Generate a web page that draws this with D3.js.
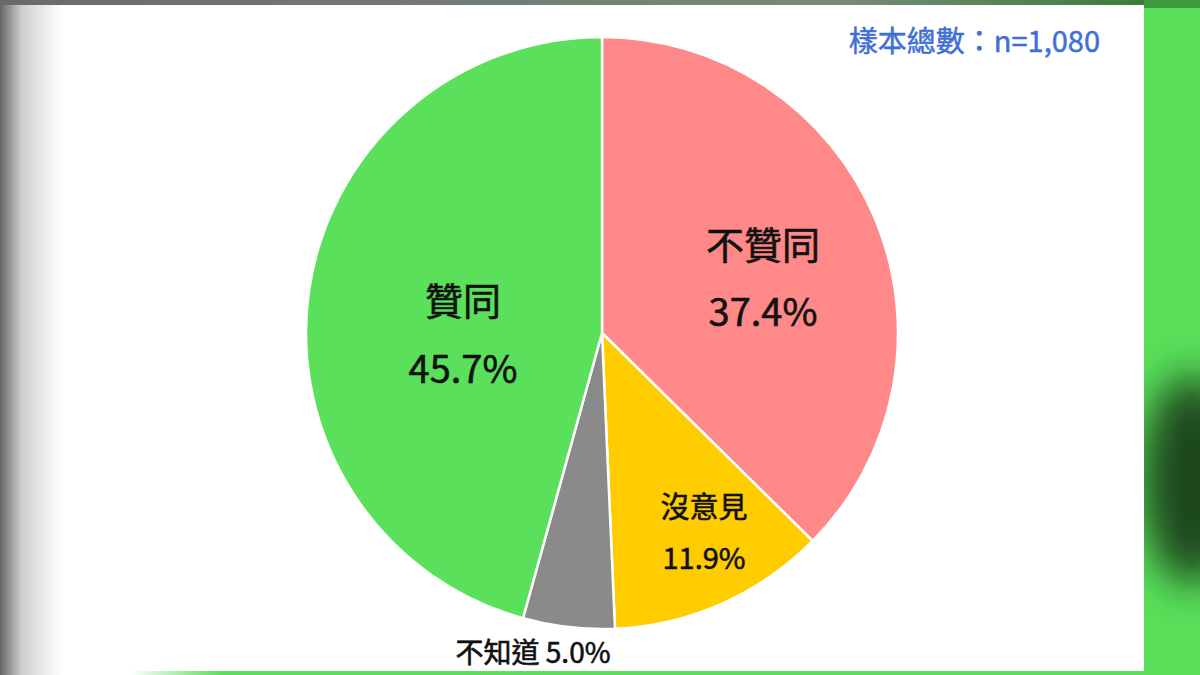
<!DOCTYPE html>
<html lang="zh-Hant">
  <meta charset="utf-8" />
  <head>
    <title>Survey Pie</title>
    <script src="https://cdn.jsdelivr.net/npm/d3@7"></script>
    <style>
      html, body { margin: 0; padding: 0; background: #fff; overflow: hidden; }
      text { font-family: "Noto Sans CJK TC", "Noto Sans", sans-serif; }
    </style>
  </head>
  <body>
  <script>
    // DATA
    var categories = ["不贊同", "沒意見", "不知道", "贊同"];
    var values     = [37.4, 11.9, 5.0, 45.7];
    var sampleNote = "樣本總數：n=1,080";

    // STYLE / LAYOUT
    var colors = ["#ff8888", "#ffcc00", "#8a8a8a", "#5ae05a"];
    var width = 1200, height = 675;
    var cx = 602, cy = 333, radius = 296;

    // label placement per slice: offset from centre, font sizes, one or two lines
    var labelLayout = [
      {dx: 161, dy: -57, size: 38, gap: 67, inline: false},
      {dx: 102, dy: 197, size: 29, gap: 51, inline: false},
      {dx: -69, dy: 318, size: 28, gap: 0,  inline: true},
      {dx: -139, dy: -1, size: 38, gap: 68, inline: false}
    ];

    var svg = d3.select("body").append("svg")
        .attr("width", width)
        .attr("height", height);

    var defs = svg.append("defs");

    // backdrop: left grey fade, top band, green panel on right
    var gl = defs.append("linearGradient").attr("id", "leftFade");
    gl.append("stop").attr("offset", "0%").attr("stop-color", "#666666");
    gl.append("stop").attr("offset", "35%").attr("stop-color", "#cfcfcf");
    gl.append("stop").attr("offset", "100%").attr("stop-color", "#ffffff");

    var gt = defs.append("linearGradient").attr("id", "topBand");
    gt.append("stop").attr("offset", "0%").attr("stop-color", "#6a6a6a");
    gt.append("stop").attr("offset", "70%").attr("stop-color", "#7a8a7a");
    gt.append("stop").attr("offset", "100%").attr("stop-color", "#2f7a2f");

    var gb = defs.append("linearGradient").attr("id", "bottomLine");
    gb.append("stop").attr("offset", "0%").attr("stop-color", "#5ae05a").attr("stop-opacity", 0);
    gb.append("stop").attr("offset", "9%").attr("stop-color", "#5ae05a").attr("stop-opacity", 1);
    gb.append("stop").attr("offset", "100%").attr("stop-color", "#5ae05a").attr("stop-opacity", 1);

    var blur = defs.append("filter").attr("id", "blob")
        .attr("x", "-100%").attr("y", "-100%").attr("width", "300%").attr("height", "300%");
    blur.append("feGaussianBlur").attr("stdDeviation", 20);

    svg.append("rect").attr("width", width).attr("height", height).attr("fill", "#fff");
    svg.append("rect").attr("x", 0).attr("y", 0).attr("width", 62).attr("height", height)
       .attr("fill", "url(#leftFade)");
    svg.append("rect").attr("x", 0).attr("y", 0).attr("width", width).attr("height", 5)
       .attr("fill", "url(#topBand)");

    var right = svg.append("g");
    right.append("rect").attr("x", 1144).attr("y", 0).attr("width", 56).attr("height", height)
       .attr("fill", "#5ae05a");
    right.append("rect").attr("x", 1144).attr("y", 0).attr("width", 56).attr("height", 8)
       .attr("fill", "#3f9a3f");
    var clip = defs.append("clipPath").attr("id", "rightClip");
    clip.append("rect").attr("x", 1144).attr("y", 0).attr("width", 56).attr("height", height);
    right.append("g").attr("clip-path", "url(#rightClip)")
       .append("ellipse")
         .attr("cx", 1192).attr("cy", 480).attr("rx", 50).attr("ry", 105)
         .attr("fill", "#1c471c")
         .attr("filter", "url(#blob)");

    svg.append("rect").attr("x", 130).attr("y", 671).attr("width", 1014).attr("height", 4)
       .attr("fill", "url(#bottomLine)");

    // PIE
    var pie = d3.pie().sort(null).value((d) => d);
    var arc = d3.arc().innerRadius(0).outerRadius(radius);
    var arcs = pie(values);

    var g = svg.append("g").attr("transform", `translate(${cx},${cy})`);

    g.selectAll("path.slice")
      .data(arcs)
      .enter()
      .append("path")
        .attr("class", "slice")
        .attr("d", arc)
        .attr("fill", (d, i) => colors[i])
        .attr("stroke", "#fff")
        .attr("stroke-width", 2.5)
        .attr("stroke-linejoin", "round");

    // labels
    var labels = g.selectAll("g.label")
      .data(arcs)
      .enter()
      .append("g")
        .attr("class", "label")
        .attr("transform", (d, i) => `translate(${labelLayout[i].dx},${labelLayout[i].dy})`);

    labels.each(function(d, i) {
      var L = labelLayout[i];
      var sel = d3.select(this);
      var pct = d3.format(".1f")(values[i]) + "%";
      var lines = L.inline ? [categories[i] + " " + pct] : [categories[i], pct];
      sel.selectAll("text")
        .data(lines)
        .enter()
        .append("text")
          .attr("text-anchor", "middle")
          .attr("dominant-baseline", "central")
          .attr("y", (t, k) => L.inline ? 0 : (k === 0 ? -L.gap / 2 : L.gap / 2))
          .attr("font-size", L.size)
          .attr("fill", "#111")
          .attr("stroke", "#111")
          .attr("stroke-width", 0.6)
          .text((t) => t);
    });

    // sample size note
    svg.append("text")
      .attr("x", 1100)
      .attr("y", 39)
      .attr("text-anchor", "end")
      .attr("dominant-baseline", "central")
      .attr("font-size", 29)
      .attr("fill", "#3f6fd6")
      .attr("stroke", "#3f6fd6")
      .attr("stroke-width", 0.5)
      .text(sampleNote);
  </script>
  </body>
</html>
